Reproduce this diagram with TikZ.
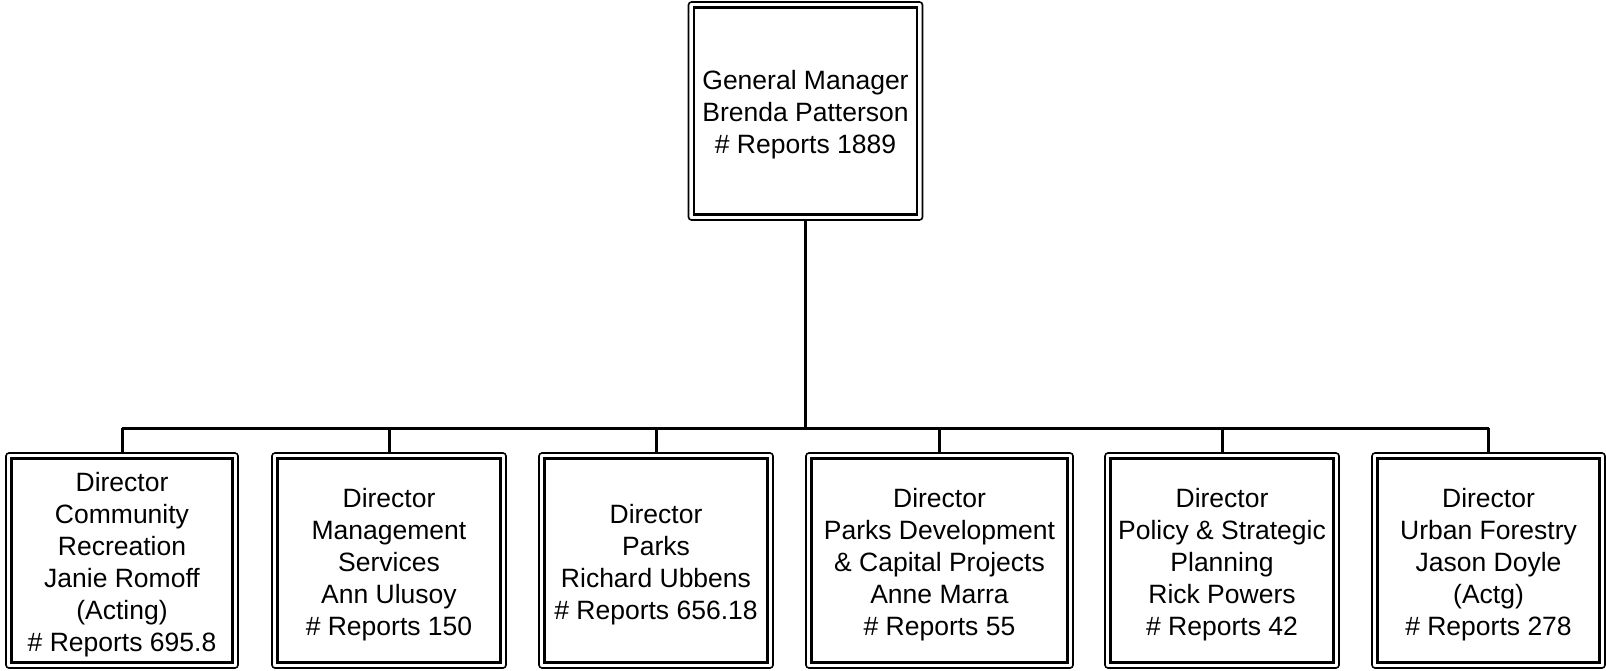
\documentclass[tikz,border=0pt]{standalone}
\usepackage{fontspec}
\setmainfont{Liberation Sans}
\begin{document}
\begin{tikzpicture}[x=1pt,y=-1pt,
  box/.style={draw, line width=2.6pt, outer sep=0pt, inner sep=0pt},
  txt/.style={inner sep=0pt, align=center, font=\fontsize{26.5}{32}\selectfont},
  frame/.style={draw, line width=1.6pt, rounded corners=3pt},
  conn/.style={draw, line width=3pt, shorten <=5.5pt}]
\useasboundingbox (0,0) rectangle (1606,671);
\node[box, minimum width=223pt, minimum height=207pt] (gm) at (805.5,111) {};
\node[box, minimum width=221pt, minimum height=204pt] (d1) at (122,560.5) {};
\node[box, minimum width=223pt, minimum height=204pt] (d2) at (389,560.5) {};
\node[box, minimum width=223pt, minimum height=204pt] (d3) at (656,560.5) {};
\node[box, minimum width=256pt, minimum height=204pt] (d4) at (939.5,560.5) {};
\node[box, minimum width=223pt, minimum height=204pt] (d5) at (1222,560.5) {};
\node[box, minimum width=222pt, minimum height=204pt] (d6) at (1488.5,560.5) {};
\node[txt] (tgm) at ([yshift=-4pt]gm.center) {General Manager\\Brenda Patterson\\\# Reports 1889};
\node[txt] (t1) at ([yshift=-4pt]d1.center) {Director\\Community\\Recreation\\Janie Romoff\\(Acting)\\\# Reports 695.8};
\node[txt] (t2) at ([yshift=-4pt]d2.center) {Director\\Management\\Services\\Ann Ulusoy\\\# Reports 150};
\node[txt] (t3) at ([yshift=-4pt]d3.center) {Director\\Parks\\Richard Ubbens\\\# Reports 656.18};
\node[txt] (t4) at ([yshift=-4pt]d4.center) {Director\\Parks Development\\\& Capital Projects\\Anne Marra\\\# Reports 55};
\node[txt] (t5) at ([yshift=-4pt]d5.center) {Director\\Policy \& Strategic\\Planning\\Rick Powers\\\# Reports 42};
\node[txt] (t6) at ([yshift=-4pt]d6.center) {Director\\Urban Forestry\\Jason Doyle\\(Actg)\\\# Reports 278};
\foreach \n in {gm,d1,d2,d3,d4,d5,d6}
  \draw[frame] ([shift={(-5.5pt,5.5pt)}]\n.north west) rectangle ([shift={(5.5pt,-5.5pt)}]\n.south east);
\coordinate (bus) at (806,428);
\draw[conn] (gm.south) -- (gm.south |- bus);
\draw[line width=3pt] (d1.north |- bus) -- (d6.north |- bus);
\foreach \n in {d1,d2,d3,d4,d5,d6}
  \draw[conn] (\n.north) -- (\n.north |- bus);
\end{tikzpicture}
\end{document}
